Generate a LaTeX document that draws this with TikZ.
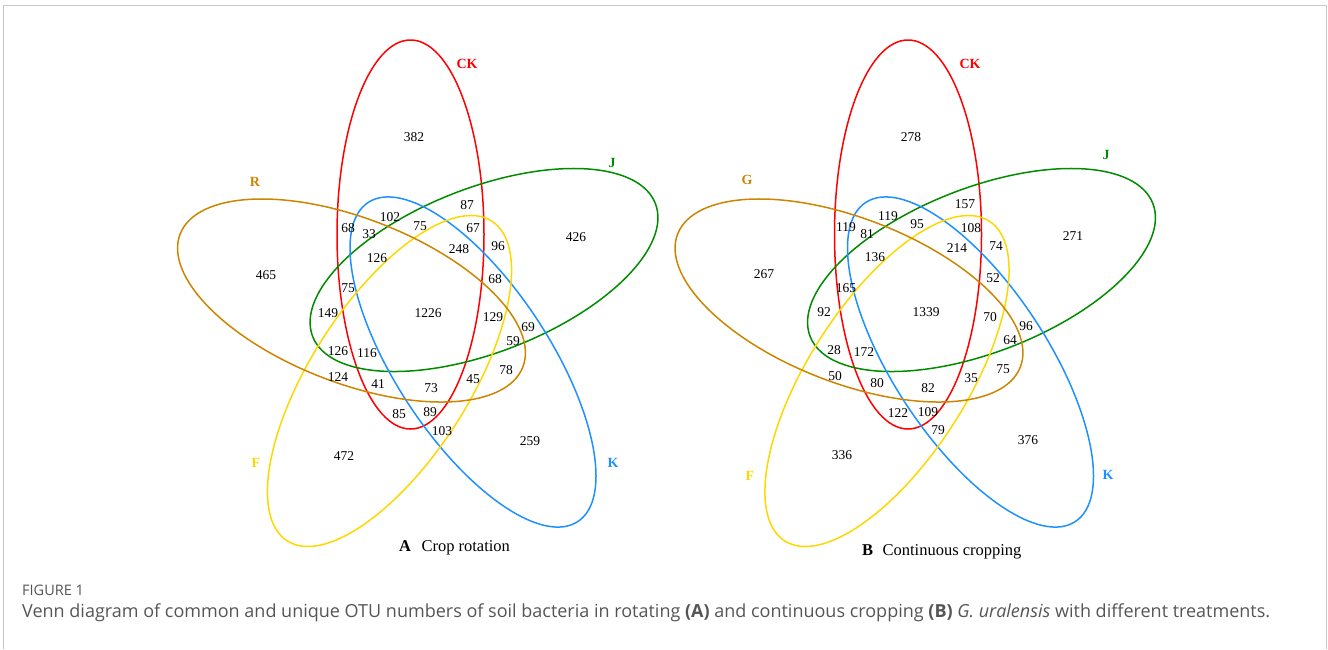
\documentclass[tikz,border=0pt]{standalone}
\usepackage{fontspec}
\setmainfont{Liberation Serif}
\newfontfamily\capfont{Open Sans}
\usetikzlibrary{positioning}
\definecolor{ckred}{HTML}{FF0000}
\definecolor{jgreen}{HTML}{008B00}
\definecolor{rorange}{HTML}{CD8500}
\definecolor{fyellow}{HTML}{FFD700}
\definecolor{kblue}{HTML}{1E90FF}
\definecolor{capgray}{HTML}{555555}
% the five rotated ellipses of one panel
\newcommand{\fiveellipses}{%
  \draw[ring, ckred]  (410.5,234.5) ellipse [x radius=73.5pt, y radius=194.5pt];
  \draw[ring, jgreen, shift={(484,270)}, rotate=21.2]      (0,0) ellipse [x radius=183.8pt, y radius=82.3pt];
  \draw[ring, kblue, shift={(473,362)}, rotate=-56.7]      (0,0) ellipse [x radius=190.9pt, y radius=77pt];
  \draw[ring, fyellow, shift={(389.5,381)}, rotate=57.4]   (0,0) ellipse [x radius=189.8pt, y radius=79.1pt];
  \draw[ring, rorange, shift={(351.5,300.5)}, rotate=-21.2] (0,0) ellipse [x radius=183.8pt, y radius=82.3pt];
}

\begin{document}
\begin{tikzpicture}[
    x=1pt, y=-1pt,
    every node/.style={inner sep=0pt},
    ring/.style  ={line width=1.5pt},
    num/.style   ={font=\fontsize{13.5}{14}\selectfont},
    setlab/.style={font=\fontsize{14}{15}\selectfont\bfseries},
    panel/.style ={font=\fontsize{16.5}{17}\selectfont, anchor=base west},
    frame/.style ={draw=black!22, line width=0.8pt},
]
\useasboundingbox (0,0) rectangle (1328,649);
\draw[frame] (3,649) -- (3,5) -- (1326,5) -- (1326,649);

% panel A: crop rotation
\fiveellipses
\node[setlab, ckred]   (ckA) at (467,64)  {CK};
\node[setlab, jgreen]  (jA)  at (612,163) {J};
\node[setlab, rorange] (rA)  at (255,182) {R};
\node[setlab, fyellow] (fA)  at (256,463) {F};
\node[setlab, kblue]   (kA)  at (613,463) {K};
\foreach \x/\y/\n [count=\i] in {
    414/137/382, 576/237/426, 266/275/465, 344/456/472, 530/441/259,
    467/205/87, 390/217/102, 348/228/68, 420/226/75, 473/228/67,
    369/234/33, 498/246/96, 459/249/248, 377/258/126, 495/279/68,
    348/288/75, 328/313/149, 428/313/1226, 493/317/129, 528/327/69,
    513/341/59, 338/351/126, 367/353/116, 506/370/78, 338/377/124,
    473/379/45, 378/384/41, 431/388/73, 399/414/85, 430/412/89,
    442/431/103}
  \node[num] (a\i) at (\x,\y) {\n};
\node[panel] (pA) at (399,551) {\textbf{A}};
\node[panel, right=10pt of pA.base east, anchor=base west] (tA) {Crop rotation};

% panel B: continuous cropping
\begin{scope}[xshift=497.5pt]
  \fiveellipses
\end{scope}
\node[setlab, ckred]   (ckB) at (970,64)   {CK};
\node[setlab, jgreen]  (jB)  at (1106,155) {J};
\node[setlab, rorange] (gB)  at (747,180)  {G};
\node[setlab, fyellow] (fB)  at (750,476)  {F};
\node[setlab, kblue]   (kB)  at (1108,475) {K};
\foreach \x/\y/\n [count=\i] in {
    911/137/278, 1073/236/271, 764/274/267, 842/455/336, 1028/440/376,
    965/204/157, 888/216/119, 846/227/119, 917/224/95, 971/228/108,
    867/234/81, 996/246/74, 957/248/214, 875/257/136, 993/278/52,
    846/288/165, 824/312/92, 926/312/1339, 990/317/70, 1026/326/96,
    1010/340/64, 834/350/28, 864/352/172, 1003/369/75, 835/376/50,
    971/378/35, 877/383/80, 928/388/82, 898/413/122, 928/412/109,
    938/430/79}
  \node[num] (b\i) at (\x,\y) {\n};
\node[panel] (pB) at (862,555) {\textbf{B}};
\node[panel, right=9pt of pB.base east, anchor=base west] (tB) {Continuous cropping};

% caption
\node[anchor=base west, font=\capfont\fontsize{14.5}{15}\selectfont, text=capgray]
  (fig) at (22,595) {FIGURE 1};
\node[anchor=base west, font=\capfont\fontsize{18}{19}\selectfont, text=capgray]
  (cap) at (22,617) {Venn diagram of common and unique OTU numbers of soil bacteria in rotating
  \textbf{(A)} and continuous cropping \textbf{(B)} \textit{G. uralensis} with different treatments.};
\end{tikzpicture}
\end{document}
